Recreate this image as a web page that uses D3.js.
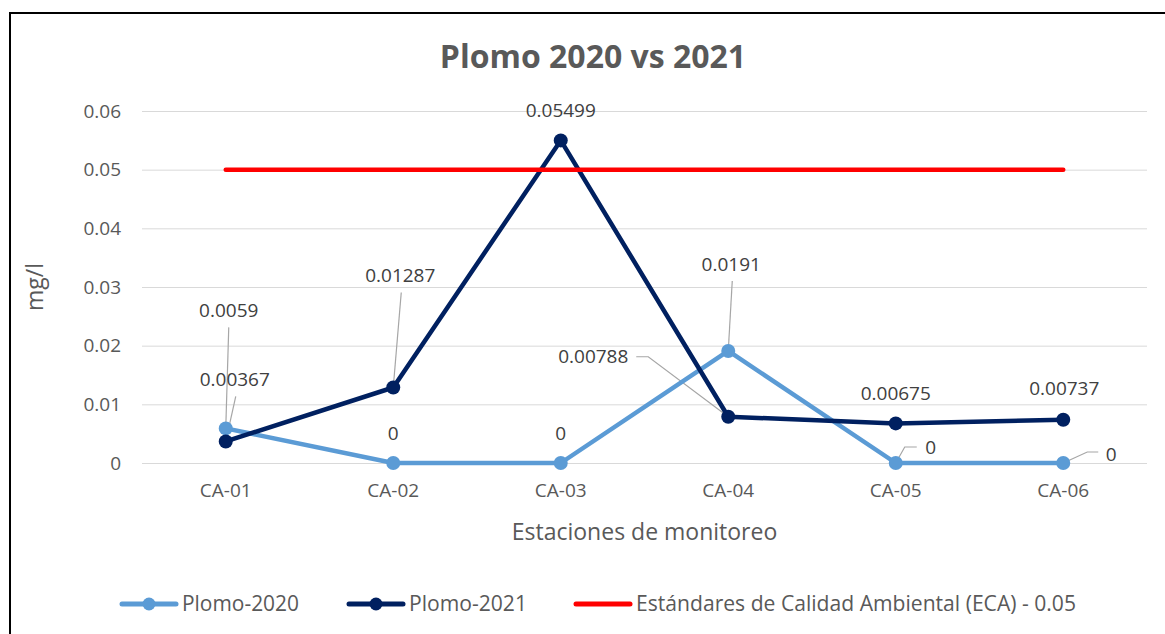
<!DOCTYPE html>
<html>
<head>
<meta charset="utf-8">
<script src="https://cdn.jsdelivr.net/npm/d3@7"></script>
<style>
  html, body { margin: 0; padding: 0; background: #fff; }
  svg { display: block; font-family: "Open Sans", "Liberation Sans", sans-serif; }
</style>
</head>
<body>
<svg id="chart" width="1165" height="634"></svg>
<script>
// Monitoring stations and lead concentrations (mg/l)
const stations = ["CA-01", "CA-02", "CA-03", "CA-04", "CA-05", "CA-06"];
const plomo2020 = [0.0059, 0, 0, 0.0191, 0, 0];
const plomo2021 = [0.00367, 0.01287, 0.05499, 0.00788, 0.00675, 0.00737];
const eca = [0.05, 0.05, 0.05, 0.05, 0.05, 0.05];
const yTicks = [0, 0.01, 0.02, 0.03, 0.04, 0.05, 0.06];
const seriesNames = ["Plomo-2020", "Plomo-2021", "Estándares de Calidad Ambiental (ECA) - 0.05"];

// Label placement: offset from the point, optional leader path (relative offsets)
const labels2020 = [
  { dx: 3, dy: -118, leader: [[3, -101], [0, 0]] },
  { dx: 0, dy: -30 },
  { dx: 0, dy: -30 },
  { dx: 3, dy: -87, leader: [[4, -70], [0, 0]] },
  { dx: 35, dy: -16, leader: [[0, 0], [9, -16], [21, -16]] },
  { dx: 48, dy: -9, leader: [[0, 0], [24, -11], [35, -11]] }
];
const labels2021 = [
  { dx: 9, dy: -62, leader: [[10, -45], [0, 0]] },
  { dx: 7, dy: -112, leader: [[8, -95], [0, 0]] },
  { dx: 0, dy: -30 },
  { dx: -135, dy: -60, leader: [[-92, -60], [-80, -60], [0, 0]] },
  { dx: 0, dy: -30 },
  { dx: 1, dy: -31 }
];

const colors = ["#5B9BD5", "#002060", "#FF0000"];
const svg = d3.select("#chart");

// outer frame
svg.append("rect")
  .attr("x", 10).attr("y", 13).attr("width", 1300).attr("height", 800)
  .attr("fill", "none").attr("stroke", "#000").attr("stroke-width", 2);

const plot = { left: 142, right: 1147, top: 111, bottom: 463 };

const x = d3.scaleBand().domain(stations).range([plot.left, plot.right]);
const xc = d => x(d) + x.bandwidth() / 2;
const y = d3.scaleLinear().domain([0, 0.06]).range([plot.bottom, plot.top]);

// title
svg.append("text")
  .attr("x", 593).attr("y", 68)
  .attr("text-anchor", "middle")
  .attr("font-size", 32).attr("font-weight", 700)
  .attr("fill", "#595959")
  .text("Plomo 2020 vs 2021");

// gridlines + y axis labels
const yAxis = d3.axisLeft(y).tickValues(yTicks)
  .tickFormat(d => d === 0 ? "0" : d3.format(".2f")(d))
  .tickSize(-(plot.right - plot.left)).tickPadding(21);
const gy = svg.append("g").attr("transform", `translate(${plot.left},0)`).call(yAxis);
gy.select(".domain").remove();
gy.selectAll(".tick line").attr("stroke", "#D9D9D9").attr("stroke-width", 1);
gy.selectAll(".tick text").attr("font-size", 19).attr("fill", "#595959")
  .attr("font-family", "Open Sans");

// x axis labels
const xAxis = d3.axisBottom(x).tickSize(0).tickPadding(21);
const gx = svg.append("g").attr("transform", `translate(0,${plot.bottom})`).call(xAxis);
gx.select(".domain").remove();
gx.selectAll(".tick text").attr("font-size", 19).attr("fill", "#595959")
  .attr("font-family", "Open Sans");

// axis titles
svg.append("text")
  .attr("x", (plot.left + plot.right) / 2).attr("y", 540)
  .attr("text-anchor", "middle").attr("font-size", 23).attr("fill", "#595959")
  .text("Estaciones de monitoreo");
svg.append("text")
  .attr("transform", `translate(43,${(plot.top + plot.bottom) / 2}) rotate(-90)`)
  .attr("text-anchor", "middle").attr("font-size", 23).attr("fill", "#595959")
  .text("mg/l");

const line = d3.line().x((d, i) => xc(stations[i])).y(d => y(d));

// leader lines (drawn beneath the series)
const leaderGroup = svg.append("g");
function drawLeaders(values, specs) {
  values.forEach((v, i) => {
    const s = specs[i];
    if (!s.leader) return;
    const px = xc(stations[i]), py = y(v);
    leaderGroup.append("path")
      .attr("d", d3.line()(s.leader.map(p => [px + p[0], py + p[1]])))
      .attr("fill", "none").attr("stroke", "#A6A6A6").attr("stroke-width", 1.2);
  });
}
drawLeaders(plomo2020, labels2020);
drawLeaders(plomo2021, labels2021);

function drawSeries(values, color, markers) {
  svg.append("path").datum(values)
    .attr("d", line)
    .attr("fill", "none").attr("stroke", color)
    .attr("stroke-width", 4.5).attr("stroke-linejoin", "round").attr("stroke-linecap", "round");
  if (markers) {
    svg.append("g").selectAll("circle").data(values).join("circle")
      .attr("cx", (d, i) => xc(stations[i])).attr("cy", d => y(d))
      .attr("r", 7).attr("fill", color);
  }
}
drawSeries(plomo2020, colors[0], true);
drawSeries(plomo2021, colors[1], true);
drawSeries(eca, colors[2], false);

// data labels
function drawLabels(values, specs) {
  svg.append("g").selectAll("text").data(values).join("text")
    .attr("x", (d, i) => xc(stations[i]) + specs[i].dx)
    .attr("y", (d, i) => y(d) + specs[i].dy)
    .attr("dy", "0.35em")
    .attr("text-anchor", "middle")
    .attr("font-size", 19).attr("fill", "#404040")
    .text(d => String(d));
}
drawLabels(plomo2020, labels2020);
drawLabels(plomo2021, labels2021);

// legend
const legendItems = [
  { x: 122, w: 117, marker: true },
  { x: 349, w: 118, marker: true },
  { x: 576, w: 440, marker: false }
];
const ly = 604;
legendItems.forEach((it, i) => {
  const g = svg.append("g");
  g.append("line")
    .attr("x1", it.x).attr("x2", it.x + 54).attr("y1", ly).attr("y2", ly)
    .attr("stroke", colors[i]).attr("stroke-width", 5).attr("stroke-linecap", "round");
  if (it.marker) {
    g.append("circle").attr("cx", it.x + 27).attr("cy", ly).attr("r", 6.5).attr("fill", colors[i]);
  }
  g.append("text")
    .attr("x", it.x + 60).attr("y", ly).attr("dy", "0.35em")
    .attr("font-size", 21).attr("fill", "#595959")
    .attr("textLength", it.w).attr("lengthAdjust", "spacingAndGlyphs")
    .text(seriesNames[i]);
});
</script>
</body>
</html>
